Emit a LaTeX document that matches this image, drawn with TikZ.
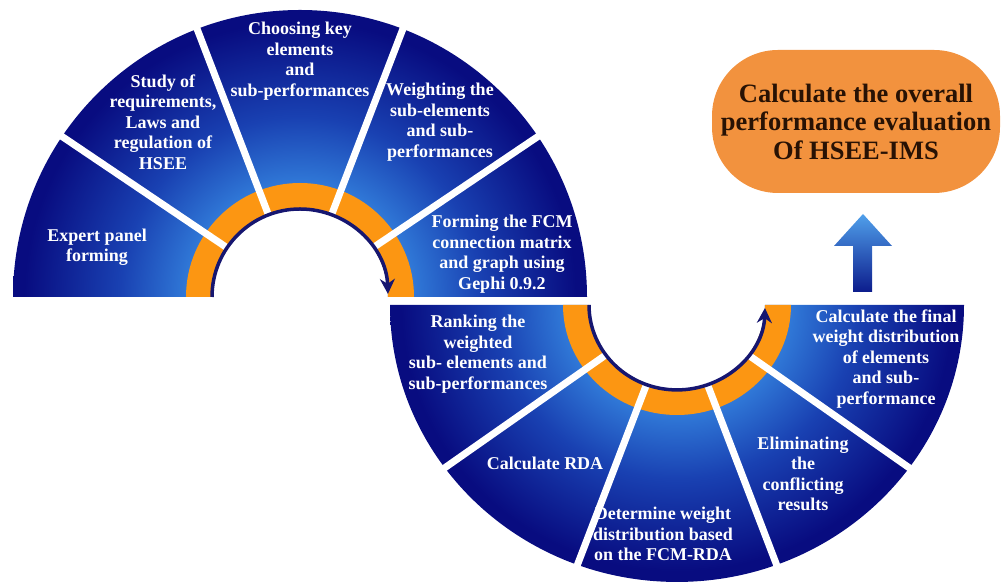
\documentclass[tikz,border=0pt]{standalone}
\usepackage{fontspec}
\setmainfont{Liberation Serif}
\usetikzlibrary{arrows.meta}

\definecolor{navydark}{RGB}{8,12,128}
\definecolor{navymid}{RGB}{25,65,178}
\definecolor{bluelight}{RGB}{48,120,215}
\definecolor{ringorange}{RGB}{252,150,18}
\definecolor{arcnavy}{RGB}{22,22,112}
\definecolor{boxorange}{RGB}{242,146,62}
\definecolor{boxtext}{RGB}{40,18,4}
\definecolor{arrowtop}{RGB}{80,160,235}
\definecolor{arrowbot}{RGB}{12,28,140}

% light blue near the hub, deep navy towards the rim
\pgfdeclareradialshading{ringshade}{\pgfpoint{0bp}{0bp}}{%
  color(0bp)=(bluelight); color(9.5bp)=(bluelight); color(15bp)=(navymid);
  color(23bp)=(navydark); color(50bp)=(navydark)}

\begin{document}
\begin{tikzpicture}[x=1pt,y=1pt,
  seglabel/.style={text=white, font=\bfseries\fontsize{18}{20.5}\selectfont,
    align=center, inner sep=0pt},
  separator/.style={white, line width=7pt},
  flowarc/.style={arcnavy, line width=3.5pt, -{Stealth[length=15pt,width=15pt]}},
  goalbox/.style={fill=boxorange, rounded corners=66pt, minimum width=288pt,
    minimum height=143pt, inner sep=0pt, align=center, text=boxtext,
    font=\bfseries\fontsize{26.5}{28.5}\selectfont}]
\useasboundingbox (0,0) rectangle (1005,588);
\clip (0,0) rectangle (1005,588);

\def\rin{88}
\def\ror{114}
\def\rout{287}
\coordinate (U) at (300,291);
\coordinate (L) at (677,283);

% ---------- upper half ring ----------
\begin{scope}
  \clip ([shift={(0:\rout)}]U) arc[start angle=0,end angle=180,radius=\rout]
     -- ([shift={(180:\rin)}]U) arc[start angle=180,end angle=0,radius=\rin] -- cycle;
  \shade[shading=ringshade] (U) circle[radius=300];
\end{scope}
\fill[ringorange] ([shift={(0:\ror)}]U) arc[start angle=0,end angle=180,radius=\ror]
   -- ([shift={(180:\rin)}]U) arc[start angle=180,end angle=0,radius=\rin] -- cycle;
\foreach \a in {34,69,111,146}
  \draw[separator] ([shift={(\a:80)}]U) -- ([shift={(\a:296)}]U);
\draw[flowarc] ([shift={(180:\rin)}]U) arc[start angle=180,end angle=2,radius=\rin];

% ---------- lower half ring (slightly flattened) ----------
\begin{scope}[shift={(L)}, yscale=0.965]
  \begin{scope}
    \clip (180:\rout) arc[start angle=180,end angle=360,radius=\rout]
       -- (0:\rin) arc[start angle=360,end angle=180,radius=\rin] -- cycle;
    \shade[shading=ringshade] (0,0) circle[radius=300];
  \end{scope}
  \fill[ringorange] (180:\ror) arc[start angle=180,end angle=360,radius=\ror]
     -- (0:\rin) arc[start angle=360,end angle=180,radius=\rin] -- cycle;
  \foreach \a in {216,249.7,290.3,324}
    \draw[separator] (\a:80) -- (\a:296);
  \draw[flowarc] (180:\rin) arc[start angle=180,end angle=358,radius=\rin];
\end{scope}

% ---------- step labels ----------
\node[seglabel] (s1) at (97,341) {Expert panel\\forming};
\node[seglabel] (s2) at (163,466) {Study of\\requirements,\\Laws and\\regulation of\\HSEE};
\node[seglabel] (s3) at (300,527) {Choosing key\\elements\\and\\sub-performances};
\node[seglabel] (s4) at (440,466) {Weighting the\\sub-elements\\and sub-\\performances};
\node[seglabel] (s5) at (502,334) {Forming the FCM\\connection matrix\\and graph using\\Gephi 0.9.2};
\node[seglabel] (s6) at (478,234) {Ranking the\\weighted\\sub- elements and\\sub-performances};
\node[seglabel] (s7) at (545,125) {Calculate RDA};
\node[seglabel] (s8) at (663,54) {Determine weight\\distribution based\\on the FCM-RDA};
\node[seglabel] (s9) at (803,114) {Eliminating\\the\\conflicting\\results};
\node[seglabel] (s10) at (886,229) {Calculate the final\\weight distribution\\of elements\\and sub-\\performance};

% ---------- final goal ----------
\node[goalbox] (goal) at (856,466.5) {Calculate the overall\\performance evaluation\\Of HSEE-IMS};
\shade[top color=arrowtop, bottom color=arrowbot]
  (853,296) -- (853,342) -- (834,342) -- (863,374) -- (892,342) -- (872,342) -- (872,296) -- cycle;
\end{tikzpicture}
\end{document}
